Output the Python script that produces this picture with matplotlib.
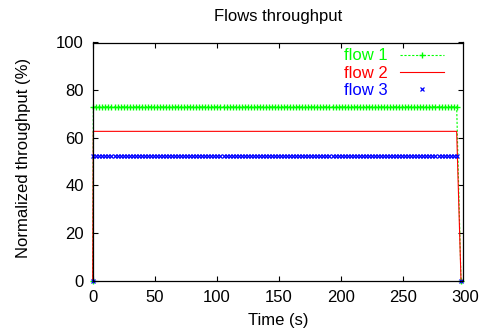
import numpy as np
import matplotlib
matplotlib.use('Agg')
import matplotlib.pyplot as plt

# sample times (s): start at 0, plateau samples every ~2.44 s, final drop
plateau_times = np.arange(0.5, 294, 2.44)
time = np.concatenate([[0], plateau_times, [296.8]])

# normalized throughput (%) per flow
flow1_level = 73.0
flow2_level = 62.7
flow3_level = 52.2

flow1 = np.concatenate([[0], np.full(len(plateau_times), flow1_level), [0]])
flow2 = np.concatenate([[0], np.full(len(plateau_times), flow2_level), [0]])
flow3 = np.concatenate([[0], np.full(len(plateau_times), flow3_level), [0]])

x_ticks = [0, 50, 100, 150, 200, 250, 300]
y_ticks = [0, 20, 40, 60, 80, 100]
x_max = 298.4

plt.rcParams['font.family'] = ['Liberation Sans', 'DejaVu Sans']
plt.rcParams['font.size'] = 12

fig = plt.figure(figsize=(4.86, 3.33), dpi=100)
ax = fig.add_axes([92.7 / 486, 52.3 / 333, 370.3 / 486, 238.2 / 333])

ax.plot(time, flow1, color='#00ff00', linestyle=(0, (2, 1.5)), linewidth=0.8,
        marker='+', markersize=4, markeredgewidth=1.0, label='flow 1', clip_on=False)
ax.plot(time, flow2, color='#ff0000', linestyle='-', linewidth=0.8, label='flow 2',
        clip_on=False)
ax.plot(time, flow3, color='#0000ff', linestyle='none',
        marker='x', markersize=3, markeredgewidth=0.9, label='flow 3', clip_on=False)

ax.set_xlim(0, x_max)
ax.set_ylim(0, 100)
ax.set_xticks([t for t in x_ticks if t <= x_max])
ax.set_yticks(y_ticks)
ax.tick_params(direction='in', top=True, right=True, length=3.5, width=0.8,
               labelsize=12, pad=6.5)
for sp in ax.spines.values():
    sp.set_linewidth(0.9)

# gnuplot still labels the 300 tic just past the right border
for t in x_ticks:
    if t > x_max:
        ax.annotate(str(t), xy=(t, 0), xycoords=('data', 'axes fraction'),
                    xytext=(0, -6.5), textcoords='offset points',
                    ha='center', va='top', fontsize=12, annotation_clip=False)

fig.text(278 / 486, 1 - 17 / 333, 'Flows throughput', ha='center', va='center', fontsize=12)
fig.text(278 / 486, 1 - 321 / 333, 'Time (s)', ha='center', va='center', fontsize=12)
fig.text(23.5 / 486, 1 - 158 / 333, 'Normalized throughput (%)', ha='center', va='center',
         rotation=90, fontsize=12)

leg = ax.legend(loc='upper right', bbox_to_anchor=(0.948, 0.975), frameon=False,
                markerfirst=False, fontsize=12, handlelength=2.64, handletextpad=0.72,
                labelspacing=0.13, borderaxespad=0, borderpad=0)
for txt, line in zip(leg.get_texts(), leg.get_lines()):
    txt.set_color(line.get_color())

fig.savefig('out.png', dpi=100)
